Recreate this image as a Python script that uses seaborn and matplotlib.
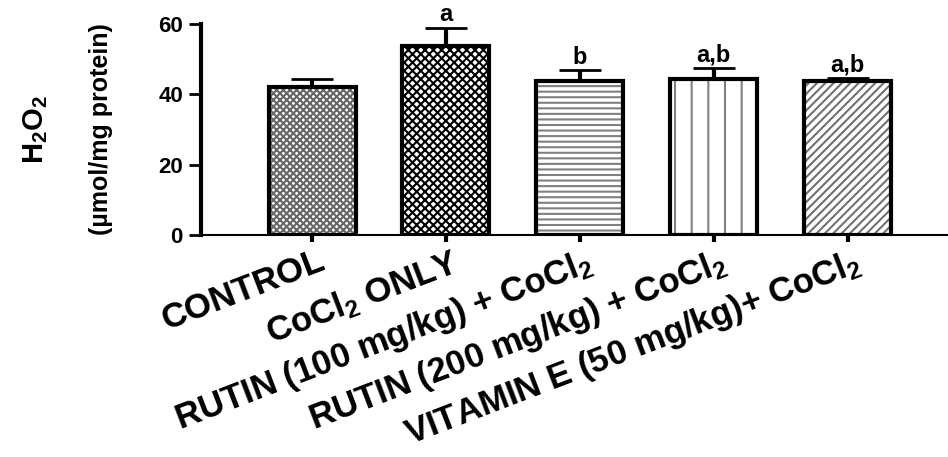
import numpy as np
import matplotlib
matplotlib.use("Agg")
import matplotlib.pyplot as plt
import matplotlib.transforms as mtransforms
import seaborn as sns

# H2O2 levels, mean and SEM
groups = ["CONTROL",
          "CoCl$_2$ ONLY",
          "RUTIN (100 mg/kg) + CoCl$_2$",
          "RUTIN (200 mg/kg) + CoCl$_2$",
          "VITAMIN E (50 mg/kg)+ CoCl$_2$"]
means = [42.0, 53.7, 43.8, 44.4, 43.9]
sem = [2.3, 5.3, 3.1, 3.1, 0.8]
letters = ["", "a", "b", "a,b", "a,b"]

# fill patterns per bar (GraphPad style)
hatches = ["xxxxx", "xxxx", "---", "|", "////"]
hatch_colors = ["#666666", "black", "#808080", "#808080", "#707070"]

sns.set_style("ticks")
plt.rcParams["font.family"] = ["Liberation Sans", "DejaVu Sans"]
plt.rcParams["font.weight"] = "bold"
plt.rcParams["text.color"] = "black"
plt.rcParams["xtick.color"] = "black"
plt.rcParams["ytick.color"] = "black"
plt.rcParams["axes.edgecolor"] = "black"
plt.rcParams["mathtext.fontset"] = "custom"
plt.rcParams["mathtext.rm"] = "Liberation Sans:bold"
plt.rcParams["mathtext.default"] = "rm"
plt.rcParams["hatch.linewidth"] = 1.5

fig = plt.figure(figsize=(9.48, 4.57), dpi=100)
ax = fig.add_axes([0.212, 0.486, 0.788, 0.4615])

# pass 1: the hatched fills
sns.barplot(x=groups, y=means, order=groups, color="white", width=0.65,
            errorbar=None, saturation=1, linewidth=0, ax=ax)
for patch, h, c in zip(ax.patches, hatches, hatch_colors):
    patch.set_hatch(h)
    patch.set_edgecolor(c)
    patch.set_linewidth(0)

# pass 2: thick black outlines
sns.barplot(x=groups, y=means, order=groups, color="black", width=0.65,
            errorbar=None, fill=False, linewidth=3, ax=ax)

# upper error bars only
x = np.arange(len(groups))
ax.errorbar(x, means, yerr=[np.zeros(len(sem)), sem], fmt="none",
            ecolor="black", elinewidth=3, capsize=15, capthick=2, zorder=5)

for xi, m, s, lab in zip(x, means, sem, letters):
    if lab:
        ax.annotate(lab, (xi, m + s), xytext=(0, 1), textcoords="offset points",
                    ha="center", va="bottom", fontsize=17, fontweight="bold")

ax.set_ylim(0, 60)
ax.set_xlim(-0.83, 4.75)
ax.set_yticks([0, 20, 40, 60])
ax.tick_params(axis="y", labelsize=16, width=2, length=9, pad=4)
ax.tick_params(axis="x", width=3, length=5, labelsize=25, labelrotation=21, pad=2)
shift = mtransforms.ScaledTranslation(18 / 100, 0, fig.dpi_scale_trans)
for lbl in ax.get_xticklabels():
    lbl.set_ha("right")
    lbl.set_fontweight("bold")
    lbl.set_transform(lbl.get_transform() + shift)
for lbl in ax.get_yticklabels():
    lbl.set_fontweight("bold")

sns.despine(ax=ax)
ax.spines["left"].set_linewidth(3)
ax.spines["bottom"].set_linewidth(1.5)
ax.set_xlabel("")
ax.set_ylabel("")

ax.text(-0.221, 0.5, "H$_2$O$_2$", transform=ax.transAxes, rotation=90,
        ha="center", va="center", fontsize=21, fontweight="bold")
ax.text(-0.134, 0.5, "(µmol/mg protein)", transform=ax.transAxes, rotation=90,
        ha="center", va="center", fontsize=18, fontweight="bold",
        family=["Liberation Sans Narrow", "Liberation Sans"])

fig.savefig("out.png", dpi=100)
